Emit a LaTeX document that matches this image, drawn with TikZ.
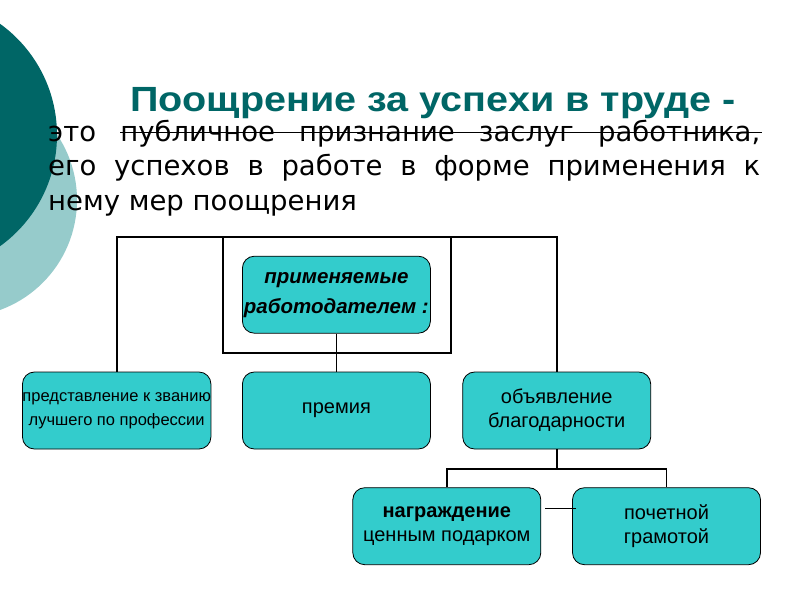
\documentclass[tikz,border=0pt]{standalone}
\usepackage{fontspec}
\setmainfont{Liberation Sans}
\newfontfamily\bodyfont{DejaVu Sans}
\usetikzlibrary{calc}
\definecolor{darkteal}{RGB}{0,102,102}
\definecolor{lightteal}{RGB}{150,203,203}
\definecolor{boxc}{RGB}{51,204,204}
\tikzset{
  orgbox/.style={draw=black, line width=0.8pt, fill=boxc, rounded corners=12pt,
    minimum width=188pt, minimum height=77pt, inner sep=0pt, align=center,
    font=\fontsize{20}{24}\selectfont},
  conn/.style={draw=black, line width=1.8pt},
  bodyline/.style={anchor=base west, inner sep=0pt, font=\bodyfont\fontsize{27.5}{34}\selectfont}
}
\begin{document}
\begin{tikzpicture}[x=1pt,y=-1pt]
\useasboundingbox (0,0) rectangle (800,600);
\fill[white] (0,0) rectangle (800,600);
\begin{scope}
\clip (0,0) rectangle (800,600);
\fill[lightteal] (-40,200) circle[radius=117];
\fill[darkteal] (-80,135) circle[radius=137];
\end{scope}
% title
\node[anchor=base west, inner sep=0pt, text=darkteal, font=\bfseries\fontsize{35}{40}\selectfont] (title) at (130,111.7) {\scalebox{1.13}[1]{Поощрение за успехи в труде -}};
\draw[line width=1.3pt] (120,132.7) -- (762,132.7);
% body
\node[bodyline] (l1) at (48,141.7) {\makebox[712pt][s]{это публичное признание заслуг работника,}};
\node[bodyline] (l2) at (48,175.5) {\makebox[712pt][s]{его успехов в работе в форме применения к}};
\node[bodyline] (l3) at (48,210) {нему мер поощрения};
% frame
\node[draw=black, line width=1.8pt, minimum width=228.3pt, minimum height=116pt, inner sep=0pt] (frame) at (336.85,295) {};
\coordinate (topbar) at (337,237);
% boxes
\node[orgbox, font=\bfseries\itshape\fontsize{20.5}{30}\selectfont] (top) at (336.4,294.7) {применяемые\\работодателем :};
\node[orgbox, font=\fontsize{16.5}{24}\selectfont] (b1) at (116.7,410.5) {представление к званию\\лучшего по профессии};
\node[orgbox] (b2) at (336.4,410.5) {премия};
\node[orgbox] (b3) at (556.7,410.5) {объявление\\благодарности};
\node[orgbox] (b4) at (446.8,526.2) {\textbf{награждение}\\ценным подарком};
\node[orgbox] (b5) at (666.5,526.2) {почетной\\грамотой};
% connectors
\draw[conn] (b1.north) -- (b1.north |- topbar) -- (b3.north |- topbar) -- (b3.north);
\draw[conn] (top.south) -- (b2.north);
\coordinate (bar) at (556.7,469);
\draw[conn] (b3.south) -- (bar);
\draw[conn] (b4.north) |- (bar) -| (b5.north);
\draw[line width=0.8pt] ($(b4.east)+(4,-18)$) -- ($(b5.west)+(4,-18)$);
\end{tikzpicture}
\end{document}
